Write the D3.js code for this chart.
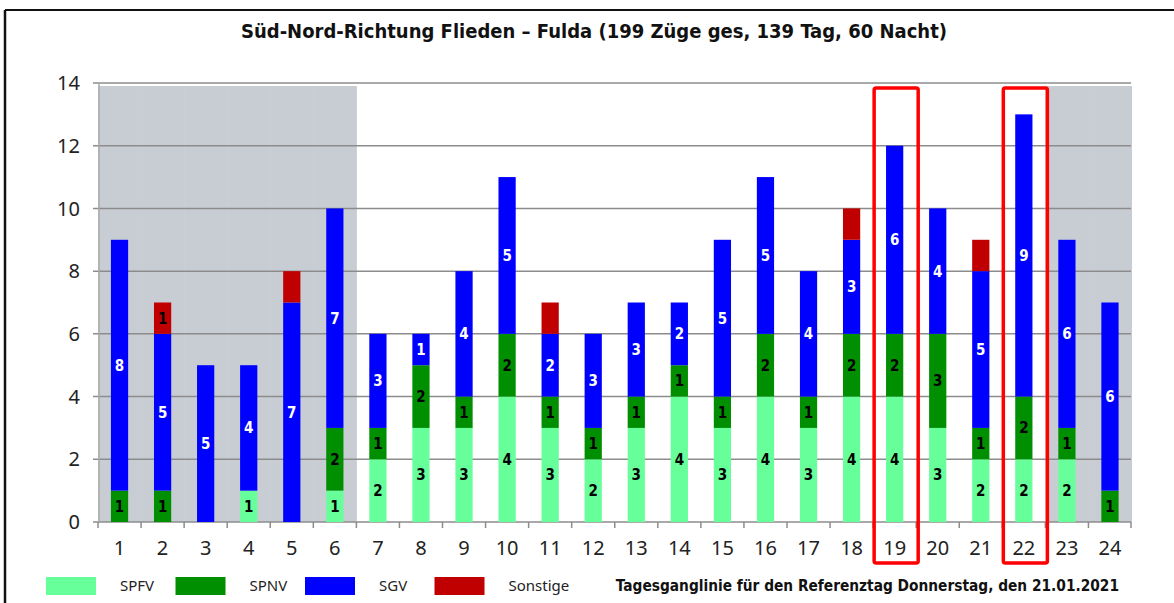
<!DOCTYPE html>
<html lang="de">
<head>
<meta charset="utf-8">
<title>Süd-Nord-Richtung Flieden – Fulda</title>
<script src="https://cdn.jsdelivr.net/npm/d3@7"></script>
<style>
  body { margin: 0; background: #fff; }
  svg { display: block; }
</style>
</head>
<body>
<svg id="chart"></svg>
<script>
// Stunden 1..24, Züge je Kategorie
var hours    = d3.range(1, 25);
var spfv     = [0,0,0,1,0,1,2,3,3,4,3,2,3,4,3,4,3,4,4,3,2,2,2,0];
var spnv     = [1,1,0,0,0,2,1,2,1,2,1,1,1,1,1,2,1,2,2,3,1,2,1,1];
var sgv      = [8,5,5,4,7,7,3,1,4,5,2,3,3,2,5,5,4,3,6,4,5,9,6,6];
var sonstige = [0,1,0,0,1,0,0,0,0,0,1,0,0,0,0,0,0,1,0,0,1,0,0,0];
var sonstigeLabelHours = [2];       // nur hier steht eine Zahl im roten Feld
var nightHours = [1,2,3,4,5,6,23,24];
var markedHours = [19, 22];
var yTicks = [0,2,4,6,8,10,12,14];

var series = [
  {key: "SPFV", values: spfv, color: "#66ff99", text: "#000"},
  {key: "SPNV", values: spnv, color: "#008f00", text: "#000"},
  {key: "SGV", values: sgv, color: "#0000ff", text: "#fff"},
  {key: "Sonstige", values: sonstige, color: "#c00000", text: "#000"}
];

var width = 1174, height = 603;
var svg = d3.select("#chart").attr("width", width).attr("height", height);

var x = d3.scaleBand().domain(hours).range([98, 1131.5]).paddingInner(0.6).paddingOuter(0.3);
var xb = d3.scaleBand().domain(hours).range([98, 1131.5]);
var y = d3.scaleLinear().domain([0, 14]).range([522, 83]);

// Rahmen
svg.append("line").attr("x1", 5).attr("x2", width).attr("y1", 10).attr("y2", 10)
   .attr("stroke", "#111").attr("stroke-width", 2);
svg.append("line").attr("x1", 5).attr("x2", 5).attr("y1", 10).attr("y2", height)
   .attr("stroke", "#111").attr("stroke-width", 2.5);

// Nachtstunden grau hinterlegen
svg.append("g").selectAll("rect").data(nightHours).enter().append("rect")
   .attr("x", function(d){ return xb(d); })
   .attr("width", xb.bandwidth() + 0.5)
   .attr("y", y(14) + 3)
   .attr("height", y(0) - y(14) - 3)
   .attr("fill", "#c8cdd3");

// Gitterlinien
svg.append("g").selectAll("line").data(yTicks).enter().append("line")
   .attr("x1", 93).attr("x2", 1131)
   .attr("y1", function(d){ return y(d); })
   .attr("y2", function(d){ return y(d); })
   .attr("stroke", "#8c8c8c").attr("stroke-width", 1.5);

// Achsen
svg.append("line").attr("x1", 99).attr("x2", 99).attr("y1", y(14)).attr("y2", y(0))
   .attr("stroke", "#aaa").attr("stroke-width", 1.5);
svg.append("g").selectAll("line").data(hours.concat([25])).enter().append("line")
   .attr("x1", function(d){ return d == 25 ? 1131 : xb(d); })
   .attr("x2", function(d){ return d == 25 ? 1131 : xb(d); })
   .attr("y1", y(0)).attr("y2", y(0) + 6)
   .attr("stroke", "#8c8c8c").attr("stroke-width", 1.5);

svg.append("g").selectAll("text").data(yTicks).enter().append("text")
   .attr("x", 80).attr("y", function(d){ return y(d); })
   .attr("dy", "0.36em")
   .attr("text-anchor", "end")
   .style("font-family", "'Noto Sans', sans-serif")
   .style("font-size", "20px")
   .style("fill", "#222")
   .text(function(d){ return d; });

svg.append("g").selectAll("text").data(hours).enter().append("text")
   .attr("x", function(d){ return x(d) + x.bandwidth()/2; })
   .attr("y", 555)
   .attr("text-anchor", "middle")
   .style("font-family", "'Noto Sans', sans-serif")
   .style("font-size", "20px")
   .style("fill", "#222")
   .text(function(d){ return d; });

// gestapelte Balken
var table = hours.map(function(h, i){
  var row = {hour: h};
  series.forEach(function(s){ row[s.key] = s.values[i]; });
  return row;
});
var stack = d3.stack().keys(series.map(function(s){ return s.key; }))(table);

var layers = svg.append("g").selectAll("g").data(stack).enter().append("g")
   .attr("fill", function(d, i){ return series[i].color; });

layers.selectAll("rect").data(function(d){ return d; }).enter().append("rect")
   .attr("x", function(d){ return x(d.data.hour); })
   .attr("width", x.bandwidth())
   .attr("y", function(d){ return y(d[1]); })
   .attr("height", function(d){ return y(d[0]) - y(d[1]); });

layers.each(function(layer, i){
  var s = series[i];
  d3.select(this).selectAll("text")
    .data(layer.filter(function(d){
      var v = d[1] - d[0];
      if (v <= 0) return false;
      if (s.key == "Sonstige") return sonstigeLabelHours.indexOf(d.data.hour) >= 0;
      return true;
    }))
    .enter().append("text")
    .attr("x", function(d){ return x(d.data.hour) + x.bandwidth()/2; })
    .attr("y", function(d){ return y((d[0] + d[1]) / 2); })
    .attr("dy", "0.36em")
    .attr("text-anchor", "middle")
    .style("font-family", "'DejaVu Sans Condensed', 'DejaVu Sans', sans-serif")
    .style("font-weight", "bold")
    .style("font-size", "15px")
    .style("fill", s.text)
    .text(function(d){ return d[1] - d[0]; });
});

// rote Markierungen
svg.append("g").selectAll("rect").data(markedHours).enter().append("rect")
   .attr("x", function(d){ return xb(d) + 1; })
   .attr("width", xb.bandwidth() + 1)
   .attr("y", 88)
   .attr("height", 475)
   .attr("rx", 2)
   .attr("fill", "none")
   .attr("stroke", "#ff0000")
   .attr("stroke-width", 3.5);

// Titel
svg.append("text")
   .attr("x", 594).attr("y", 38)
   .attr("text-anchor", "middle")
   .style("font-family", "'DejaVu Sans Condensed', sans-serif")
   .style("font-weight", "bold")
   .style("font-size", "20px")
   .style("fill", "#111")
   .text("Süd-Nord-Richtung  Flieden  – Fulda (199 Züge ges, 139 Tag, 60 Nacht)");

// Legende
var legend = svg.append("g").selectAll("g").data(series).enter().append("g")
   .attr("transform", function(d, i){ return "translate(" + (46 + i*129.5) + ",577)"; });
legend.append("rect").attr("width", 50).attr("height", 18)
   .attr("fill", function(d){ return d.color; });
legend.append("text")
   .attr("x", 74)
   .attr("y", 14)
   .style("font-family", "'Noto Sans', sans-serif")
   .style("font-size", "15px")
   .style("fill", "#222")
   .text(function(d){ return d.key; });

svg.append("text")
   .attr("x", 1119).attr("y", 591)
   .attr("text-anchor", "end")
   .style("font-family", "'DejaVu Sans Condensed', sans-serif")
   .style("font-weight", "bold")
   .style("font-size", "15.3px")
   .style("fill", "#111")
   .text("Tagesganglinie  für den Referenztag Donnerstag, den 21.01.2021");
</script>
</body>
</html>
